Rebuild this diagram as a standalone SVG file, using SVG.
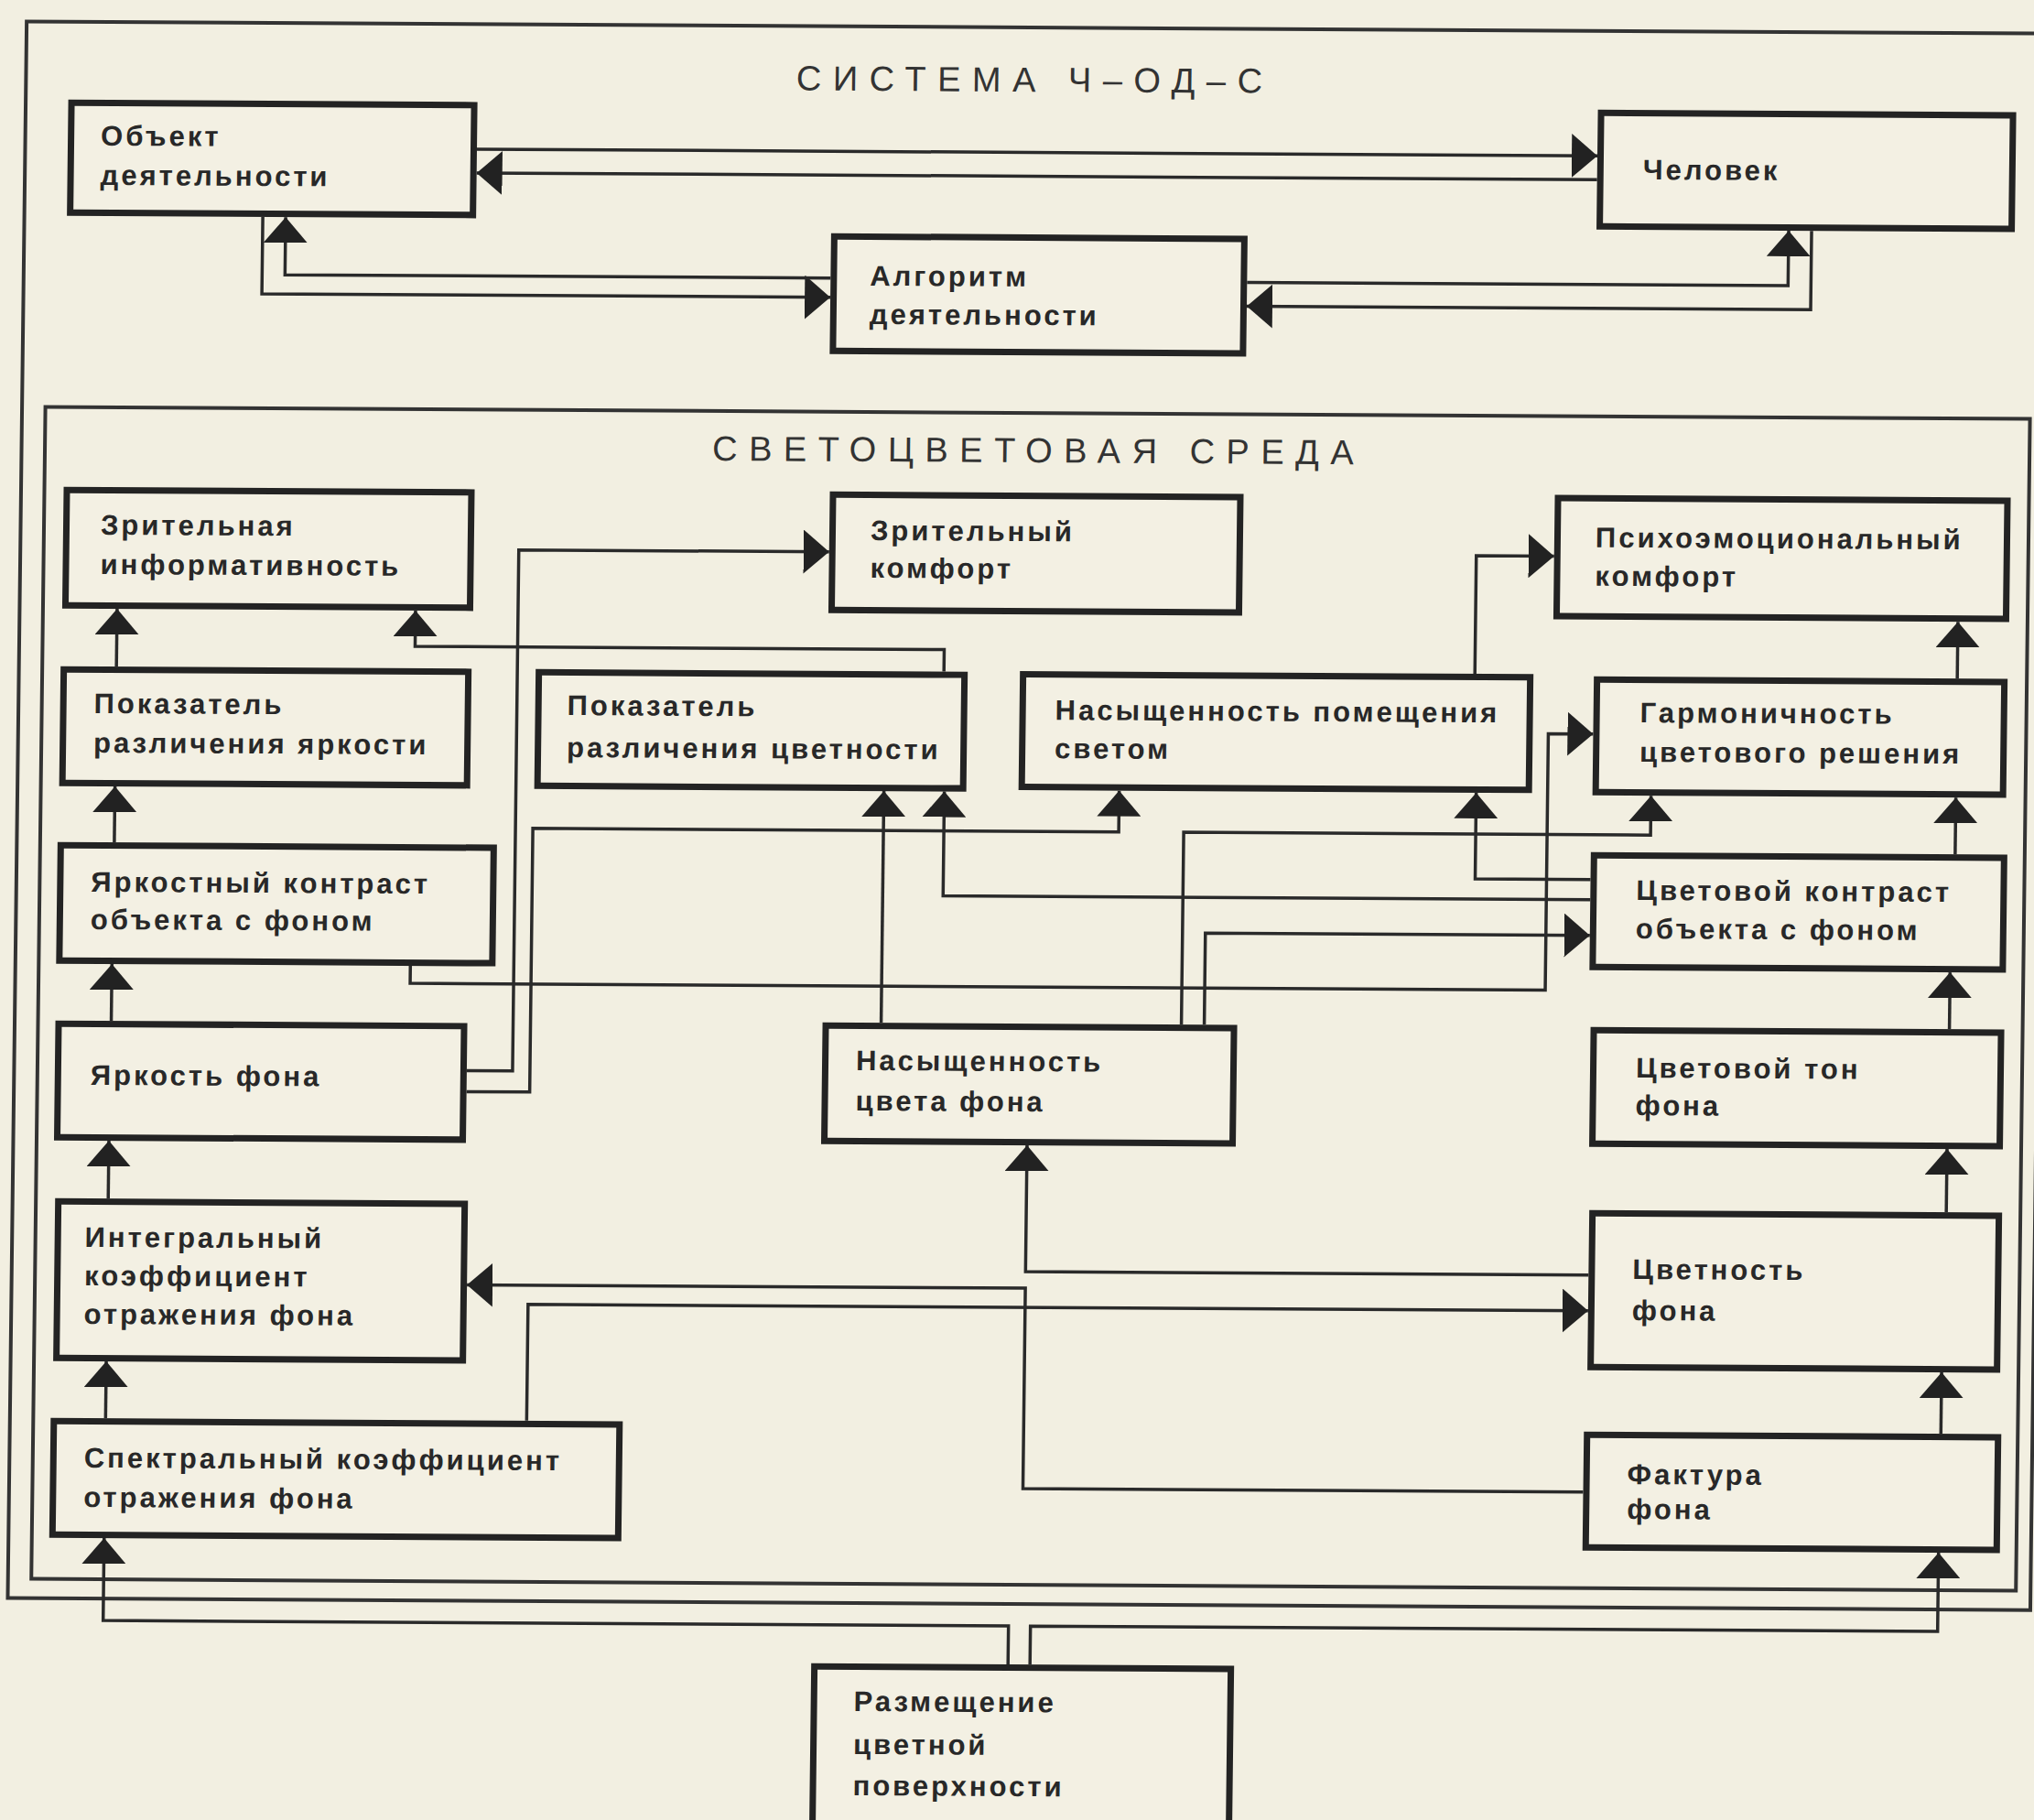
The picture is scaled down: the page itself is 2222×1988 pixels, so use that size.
<svg xmlns="http://www.w3.org/2000/svg" width="2222" height="1988" viewBox="0 0 2222 1988">
<style>
.box{fill:#f3f0e3;stroke:#232323;stroke-width:7}
.lbl{font-family:"Liberation Sans",Arial,sans-serif;font-weight:bold;font-size:31px;letter-spacing:3px;fill:#282828}
.ttl{font-family:"Liberation Sans",Arial,sans-serif;font-size:38px;letter-spacing:12.5px;fill:#333}
.frame{fill:none;stroke:#333;stroke-width:4}
.c{fill:none;stroke:#2a2a2a;stroke-width:3.5;marker-end:url(#ah)}
</style>
<defs>
<marker id="ah" viewBox="0 0 28 48" refX="28" refY="24" markerWidth="28" markerHeight="48" markerUnits="userSpaceOnUse" orient="auto"><path d="M0,0 L28,24 L0,48 Z" fill="#222"/></marker>
</defs>
<rect x="0" y="0" width="2222" height="1988" fill="#f2efe1"/>
<g transform="matrix(1 0.006 -0.012 1 12 -6.67)">
<g id="frames">
<rect class="frame" x="17.5" y="30" width="2209.5" height="1722"/>
<rect class="frame" x="43" y="451" width="2168" height="1280"/>
<text class="ttl" x="859" y="100">СИСТЕМА Ч–ОД–С</text>
<text class="ttl" x="772" y="505">СВЕТОЦВЕТОВАЯ СРЕДА</text>
</g>
<g id="connectors">
<path class="c" d="M511,166.5 H1735"/>
<path class="c" d="M1735,192.5 H511"/>
<path class="c" d="M278,242 V326 H899"/>
<path class="c" d="M899,305 H303 V242"/>
<path class="c" d="M1354,307 H1945 V247"/>
<path class="c" d="M1970,247 V333 H1354"/>
<path class="c" d="M124,734 V671"/>
<path class="c" d="M124,926 V865"/>
<path class="c" d="M123,1121 V1059"/>
<path class="c" d="M122,1315 V1252"/>
<path class="c" d="M122,1555 V1493"/>
<path class="c" d="M1111,1818 V1776 H122 V1686"/>
<path class="c" d="M2135,735 V673"/>
<path class="c" d="M2135,927 V865"/>
<path class="c" d="M2131,1118 V1056"/>
<path class="c" d="M2130,1318 V1249"/>
<path class="c" d="M2127,1560 V1493"/>
<path class="c" d="M1135,1818 V1776 H2126 V1690"/>
<path class="c" d="M1028,734 V710 H450 V671"/>
<path class="c" d="M512,1173 H562 V604 H901"/>
<path class="c" d="M512,1196 H581 V908 H1221 V863"/>
<path class="c" d="M449,1059 V1078 H1689 V798 H1738"/>
<path class="c" d="M964,1118 V865"/>
<path class="c" d="M1737,979 H1030 V865"/>
<path class="c" d="M1737,957 H1611 V863"/>
<path class="c" d="M1292,1118 V908 H1802 V865"/>
<path class="c" d="M1317,1118 V1018 H1737"/>
<path class="c" d="M1740,1389 H1125 V1251"/>
<path class="c" d="M1737,1626 H1125 V1407 H515"/>
<path class="c" d="M582,1555 V1428 H1740"/>
<path class="c" d="M1608,733 V604 H1693"/>
</g>
<g id="n1"><rect class="box" x="67.5" y="118.5" width="440" height="120"/><text class="lbl" x="100" y="165">Объект</text><text class="lbl" x="100" y="208">деятельности</text></g>
<g id="n2"><rect class="box" x="1738.5" y="119.5" width="450" height="124"/><text class="lbl" x="1785" y="192">Человек</text></g>
<g id="n3"><rect class="box" x="902.5" y="259.5" width="448" height="125"/><text class="lbl" x="942" y="313">Алгоритм</text><text class="lbl" x="942" y="355">деятельности</text></g>
<g id="n4"><rect class="box" x="67.5" y="541.5" width="442" height="126"/><text class="lbl" x="105" y="590">Зрительная</text><text class="lbl" x="105" y="633">информативность</text></g>
<g id="n5"><rect class="box" x="904.5" y="541.5" width="445" height="126"/><text class="lbl" x="946" y="591">Зрительный</text><text class="lbl" x="946" y="632">комфорт</text></g>
<g id="n6"><rect class="box" x="1696.5" y="540.5" width="491" height="129"/><text class="lbl" x="1738" y="594">Психоэмоциональный</text><text class="lbl" x="1738" y="636">комфорт</text></g>
<g id="n7"><rect class="box" x="66.5" y="737.5" width="442" height="124"/><text class="lbl" x="100" y="785">Показатель</text><text class="lbl" x="100" y="828">различения яркости</text></g>
<g id="n8"><rect class="box" x="585.5" y="737.5" width="465" height="124"/><text class="lbl" x="617" y="784">Показатель</text><text class="lbl" x="617" y="830">различения цветности</text></g>
<g id="n9"><rect class="box" x="1114.5" y="736.5" width="554" height="123"/><text class="lbl" x="1150" y="786">Насыщенность помещения</text><text class="lbl" x="1150" y="828">светом</text></g>
<g id="n10"><rect class="box" x="1741.5" y="738.5" width="445" height="123"/><text class="lbl" x="1789" y="785">Гармоничность</text><text class="lbl" x="1789" y="828">цветового решения</text></g>
<g id="n11"><rect class="box" x="65.5" y="929.5" width="473" height="126"/><text class="lbl" x="99" y="980">Яркостный контраст</text><text class="lbl" x="99" y="1021">объекта с фоном</text></g>
<g id="n12"><rect class="box" x="1740.5" y="930.5" width="448" height="122"/><text class="lbl" x="1787" y="979">Цветовой контраст</text><text class="lbl" x="1787" y="1021">объекта с фоном</text></g>
<g id="n13"><rect class="box" x="65.5" y="1124.5" width="443" height="124"/><text class="lbl" x="101" y="1191">Яркость фона</text></g>
<g id="n14"><rect class="box" x="903.5" y="1121.5" width="446" height="126"/><text class="lbl" x="937" y="1170">Насыщенность</text><text class="lbl" x="937" y="1214">цвета фона</text></g>
<g id="n15"><rect class="box" x="1742.5" y="1121.5" width="445" height="124"/><text class="lbl" x="1789" y="1173">Цветовой тон</text><text class="lbl" x="1789" y="1214">фона</text></g>
<g id="n16"><rect class="box" x="67.5" y="1318.5" width="444" height="171"/><text class="lbl" x="97" y="1368">Интегральный</text><text class="lbl" x="97" y="1410">коэффициент</text><text class="lbl" x="97" y="1452">отражения фона</text></g>
<g id="n17"><rect class="box" x="1743.5" y="1321.5" width="444" height="168"/><text class="lbl" x="1788" y="1393">Цветность</text><text class="lbl" x="1788" y="1438">фона</text></g>
<g id="n18"><rect class="box" x="65.5" y="1558.5" width="618" height="124"/><text class="lbl" x="99" y="1609">Спектральный коэффициент</text><text class="lbl" x="99" y="1652">отражения фона</text></g>
<g id="n19"><rect class="box" x="1740.5" y="1563.5" width="449" height="123"/><text class="lbl" x="1785" y="1617">Фактура</text><text class="lbl" x="1785" y="1655">фона</text></g>
<g id="n20"><rect class="box" x="899.5" y="1821.5" width="455" height="200"/><text class="lbl" x="943" y="1870">Размещение</text><text class="lbl" x="943" y="1917">цветной</text><text class="lbl" x="943" y="1962">поверхности</text></g>
</g>
</svg>
